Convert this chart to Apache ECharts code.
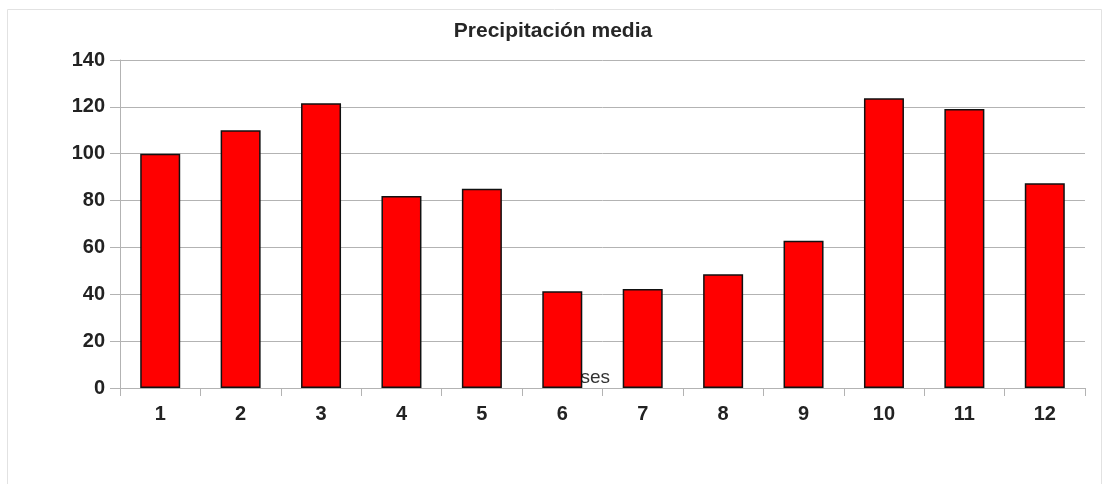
<!DOCTYPE html>
<html>
<head>
<meta charset="utf-8">
<title>Precipitación media</title>
<script src="https://cdn.jsdelivr.net/npm/echarts@6/dist/echarts.min.js"></script>
<style>
  html, body { margin: 0; padding: 0; background: #fff; }
  #chart { width: 1106px; height: 484px; }
</style>
</head>
<body>
<div id="chart"></div>
<script>
// Monthly average precipitation
const meses = ['1', '2', '3', '4', '5', '6', '7', '8', '9', '10', '11', '12'];
const precipitacion = [100, 110, 121.5, 82, 85, 41.3, 42.3, 48.5, 62.8, 123.7, 119.1, 87.4];
const yTicks = { min: 0, max: 140, interval: 20 };

const FONT = '"Liberation Sans", Arial, sans-serif';
const GRID_GRAY = '#b3b3b3';

const chart = echarts.init(document.getElementById('chart'), null, { renderer: 'canvas' });

chart.setOption({
  animation: false,
  backgroundColor: '#ffffff',
  title: {
    text: 'Precipitación media',
    left: 'center',
    top: 16,
    textStyle: { fontFamily: FONT, fontSize: 21, fontWeight: 'bold', color: '#262626' }
  },
  graphic: [{
    type: 'rect',
    z: -10,
    shape: { x: 7.5, y: 9.5, width: 1094, height: 520 },
    style: { fill: 'none', stroke: '#e2e2e2', lineWidth: 1 }
  }],
  grid: { left: 120, right: 21, top: 60, bottom: 96 },
  xAxis: {
    type: 'category',
    data: meses,
    name: 'Meses',
    nameLocation: 'middle',
    nameMoveOverlap: false,
    nameGap: -20,
    nameTextStyle: {
      fontFamily: FONT, fontSize: 19, color: '#333',
      padding: [0, 41, 0, 0]
    },
    axisLine: { show: true, lineStyle: { color: GRID_GRAY, width: 1 } },
    axisTick: { show: true, alignWithLabel: false, length: 8, lineStyle: { color: GRID_GRAY } },
    axisLabel: { margin: 16, fontFamily: FONT, fontSize: 20, fontWeight: 'bold', color: '#222' },
    splitLine: { show: false }
  },
  yAxis: {
    type: 'value',
    min: yTicks.min,
    max: yTicks.max,
    interval: yTicks.interval,
    axisLine: { show: true, lineStyle: { color: GRID_GRAY, width: 1 } },
    axisTick: { show: true, length: 10, lineStyle: { color: GRID_GRAY } },
    axisLabel: { margin: 15, fontFamily: FONT, fontSize: 20, fontWeight: 'bold', color: '#222' },
    splitLine: { show: true, lineStyle: { color: GRID_GRAY, width: 1 } }
  },
  series: [{
    type: 'bar',
    data: precipitacion,
    barWidth: 40,
    itemStyle: { color: '#ff0000', borderColor: '#111', borderWidth: 1.5 }
  }]
});
</script>
</body>
</html>
